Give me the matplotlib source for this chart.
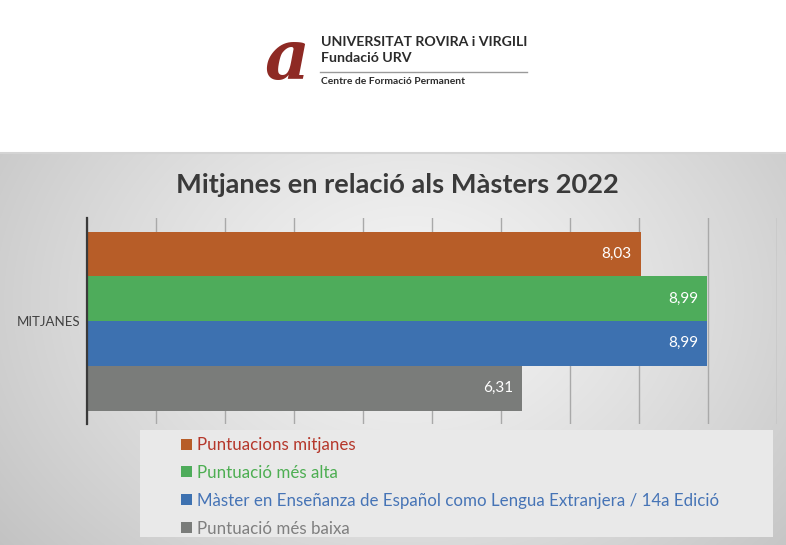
import numpy as np
import matplotlib
matplotlib.use("Agg")
import matplotlib.pyplot as plt
from matplotlib.patches import Rectangle

# ---------------- data ----------------
title = "Mitjanes en relació als Màsters 2022"
category = ["MITJANES"]
series_names = [
    "Puntuacions mitjanes",
    "Puntuació més alta",
    "Màster en Enseñanza de Español como Lengua Extranjera / 14a Edició",
    "Puntuació més baixa",
]
values = [8.03, 8.99, 8.99, 6.31]
value_labels = ["8,03", "8,99", "8,99", "6,31"]
x_ticks = list(range(0, 11))

bar_colors = ["#B75D28", "#4EAC5B", "#3D71B0", "#7A7C7A"]
text_colors = ["#B5372B", "#4DAE52", "#4674B6", "#7F7F7F"]

FONT = ["Lato", "DejaVu Sans"]
plt.rcParams["font.family"] = FONT

W, H = 786, 545
fig = plt.figure(figsize=(W / 100, H / 100), dpi=100)
fig.patch.set_facecolor("white")

# background axes in pixel coordinates
bg = fig.add_axes([0, 0, 1, 1])
bg.set_xlim(0, W)
bg.set_ylim(H, 0)
bg.axis("off")

yy, xx = np.mgrid[152:H, 0:W]
d = np.sqrt(((xx - 410) / 430.0) ** 2 + ((yy - 300) / 330.0) ** 2)
val = 0.955 - 0.15 * np.clip(d, 0, 1.4) ** 1.3
img = np.dstack([val, val, val])
bg.imshow(img, extent=(0, W, H, 152), aspect="auto", zorder=0, interpolation="bilinear")
bg.plot([0, W], [152.5, 152.5], color="#d4d4d4", lw=1.5, zorder=1)

# legend background
bg.add_patch(Rectangle((140, 430), 633, 107, facecolor="#e9e9e9", edgecolor="none", zorder=1))

# logo
bg.text(287, 60, "a", fontsize=50, family="DejaVu Serif", style="italic", fontweight="bold",
        color="#8E2A24", ha="center", va="center", zorder=2)
bg.text(321, 42, "UNIVERSITAT ROVIRA i VIRGILI", fontsize=10.2, fontweight="bold",
        color="#2b2b2b", ha="left", va="center", zorder=2)
bg.text(321, 58, "Fundació URV", fontsize=10.2, fontweight="bold",
        color="#2b2b2b", ha="left", va="center", zorder=2)
bg.plot([320, 527], [71.5, 71.5], color="#9a9a9a", lw=1, zorder=2)
bg.text(321, 81, "Centre de Formació Permanent", fontsize=7.4, fontweight="bold",
        color="#2b2b2b", ha="left", va="center", zorder=2)

# title
bg.text(397, 185, title, fontsize=19.6, fontweight="bold", color="#3a3a3a",
        ha="center", va="center", zorder=2)

# main axes
ax = fig.add_axes([87 / W, 1 - 424 / H, (776.5 - 87) / W, 206 / H])
ax.set_facecolor("none")
ax.set_xlim(0, 10)
ax.set_ylim(-0.5, 0.5)

bar_h = 179 / 206 / 4
offsets = [1.5, 0.5, -0.5, -1.5]
handles = []
for name, v, lab, c, off in zip(series_names, values, value_labels, bar_colors, offsets):
    y = 0 + off * bar_h
    b = ax.barh(y, v, height=bar_h, color=c, label=name, zorder=3)
    handles.append(b)
    ax.text(v - 0.13, y, lab, ha="right", va="center", color="white", fontsize=11, zorder=4)

ax.set_xticks(x_ticks)
ax.set_xticklabels([])
ax.grid(axis="x", color="#a9a9a9", lw=1, zorder=0)
ax.tick_params(axis="x", length=0)
ax.set_yticks([0])
ax.set_yticklabels(category, fontsize=9.5, color="#404040")
ax.tick_params(axis="y", length=0, pad=5)
for s in ["top", "right", "bottom"]:
    ax.spines[s].set_visible(False)
ax.spines["left"].set_color("#3a3a3a")
ax.spines["left"].set_linewidth(1.6)
ax.spines["left"].set_zorder(5)

leg = ax.legend(handles=handles, labels=series_names, loc="upper left",
                bbox_to_anchor=(181 / W, 1 - 437 / H), bbox_transform=fig.transFigure,
                frameon=False, fontsize=12.2, labelcolor=text_colors,
                handlelength=0.62, handleheight=0.62, handletextpad=0.3,
                labelspacing=0.7, borderpad=0, borderaxespad=0)

fig.savefig("out.png", dpi=100)
